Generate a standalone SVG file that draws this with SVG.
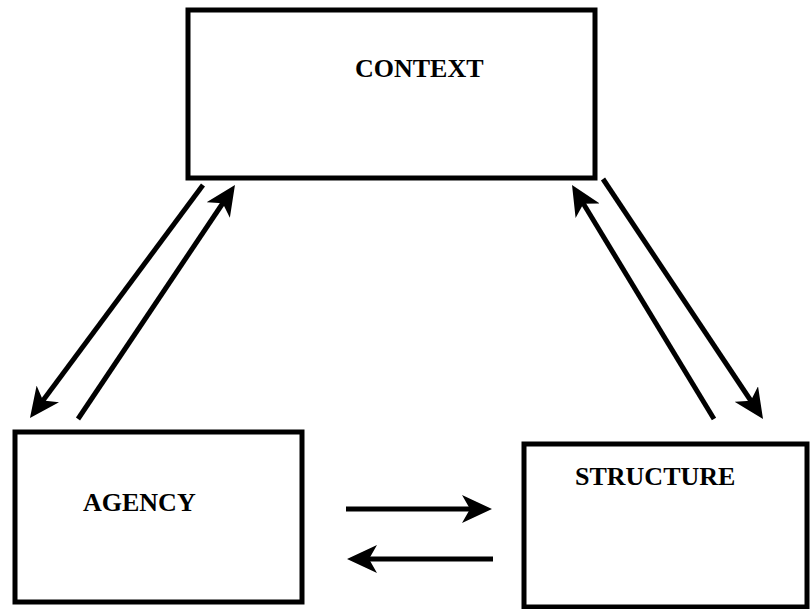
<svg xmlns="http://www.w3.org/2000/svg" width="810" height="609" viewBox="0 0 810 609">
  <defs>
    <marker id="head" markerUnits="userSpaceOnUse" viewBox="0 0 30 28" markerWidth="30" markerHeight="28" refX="15" refY="14" orient="auto">
      <path d="M30,14 L0,0 L8,14 L0,28 Z" fill="#000"/>
    </marker>
    <style>
      .box { fill: #fff; stroke: #000; stroke-width: 5; }
      .lbl { font-family: "Liberation Serif", "Times New Roman", serif; font-weight: bold; font-size: 26px; fill: #000; }
      .conn line { stroke: #000; stroke-width: 5; marker-end: url(#head); }
    </style>
  </defs>
  <rect width="810" height="609" fill="#fff"/>
  <g id="context">
    <rect class="box" x="188" y="10" width="407" height="168"/>
    <text class="lbl" x="355" y="77">CONTEXT</text>
  </g>
  <g id="agency">
    <rect class="box" x="15" y="432" width="287" height="170"/>
    <text class="lbl" x="83" y="511">AGENCY</text>
  </g>
  <g id="structure">
    <rect class="box" x="524" y="444" width="283" height="163"/>
    <text class="lbl" x="575" y="485">STRUCTURE</text>
  </g>
  <g id="connectors" class="conn">
    <line x1="203" y1="185" x2="38.9" y2="406"/>
    <line x1="78" y1="419" x2="226.6" y2="197.5"/>
    <line x1="714" y1="419" x2="579.8" y2="197.8"/>
    <line x1="603" y1="179" x2="754.7" y2="406.5"/>
    <line x1="346" y1="509" x2="477" y2="509"/>
    <line x1="493" y1="559" x2="362" y2="559"/>
  </g>
</svg>
